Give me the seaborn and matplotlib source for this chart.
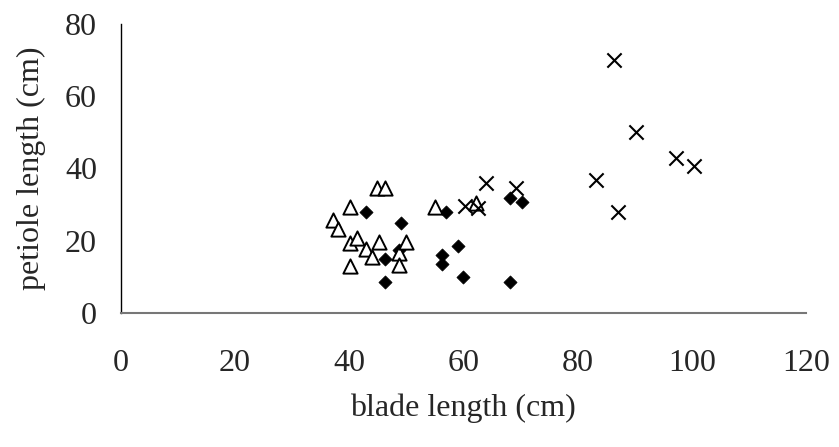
import numpy as np
import pandas as pd
import matplotlib
matplotlib.use('Agg')
import matplotlib.pyplot as plt
import seaborn as sns

# blade length (x) vs petiole length (y), three groups
tri_x = [37.1, 38.0, 40.2, 40.2, 40.2, 41.3, 42.9, 44.0, 44.8, 45.2, 46.2, 48.8, 48.8, 50.0, 55.1, 62.2]
tri_y = [25.7, 23.3, 29.4, 19.5, 13.0, 20.7, 17.7, 15.6, 34.5, 19.7, 34.5, 16.7, 13.3, 19.7, 29.4, 30.4]

dia_x = [43.0, 46.2, 46.2, 48.8, 49.0, 56.3, 56.3, 57.0, 59.1, 60.0, 68.1, 68.2, 70.2]
dia_y = [28.0, 14.9, 8.7, 17.4, 24.8, 16.1, 13.6, 28.0, 18.5, 9.9, 8.7, 31.7, 30.6]

crs_x = [60.2, 62.5, 64.0, 69.2, 83.2, 86.4, 87.0, 90.2, 97.2, 100.3]
crs_y = [29.6, 29.0, 35.9, 34.5, 36.8, 70.0, 27.9, 50.0, 43.0, 40.7]

sns.set_style('white')
plt.rcParams['font.family'] = ['Liberation Serif', 'DejaVu Serif']

FS = 23

fig = plt.figure(figsize=(8.39, 4.47), dpi=100)
ax = fig.add_axes([0.1439, 0.2998, 0.8168, 0.6465])

sns.scatterplot(x=tri_x, y=tri_y, ax=ax, marker='^', s=105,
                facecolors='white', edgecolor='black', linewidth=1.4, zorder=3)
sns.scatterplot(x=dia_x, y=dia_y, ax=ax, marker='D', s=45,
                color='black', edgecolor='black', linewidth=0.5, zorder=2)
sns.scatterplot(x=crs_x, y=crs_y, ax=ax, marker='x', s=105,
                color='black', linewidth=1.5, zorder=4)

ax.set_xlim(0, 120)
ax.set_ylim(0, 80)
ax.set_xticks(np.arange(0, 121, 20))
ax.set_yticks(np.arange(0, 81, 20))
ax.tick_params(axis='x', direction='in', length=7, width=1, color='black',
               labelsize=FS, pad=26)
ax.tick_params(axis='y', length=0, labelsize=FS, pad=17)

for side in ['top', 'right']:
    ax.spines[side].set_visible(False)
ax.spines['left'].set_color('black')
ax.spines['left'].set_linewidth(1.0)
ax.spines['bottom'].set_color('#777777')
ax.spines['bottom'].set_linewidth(1.5)

ax.set_xlabel('blade length (cm)', fontsize=FS, labelpad=11)
ax.set_ylabel('petiole length (cm)', fontsize=FS, labelpad=14)

fig.savefig('out.png', dpi=100)
print("Saved out.png")
